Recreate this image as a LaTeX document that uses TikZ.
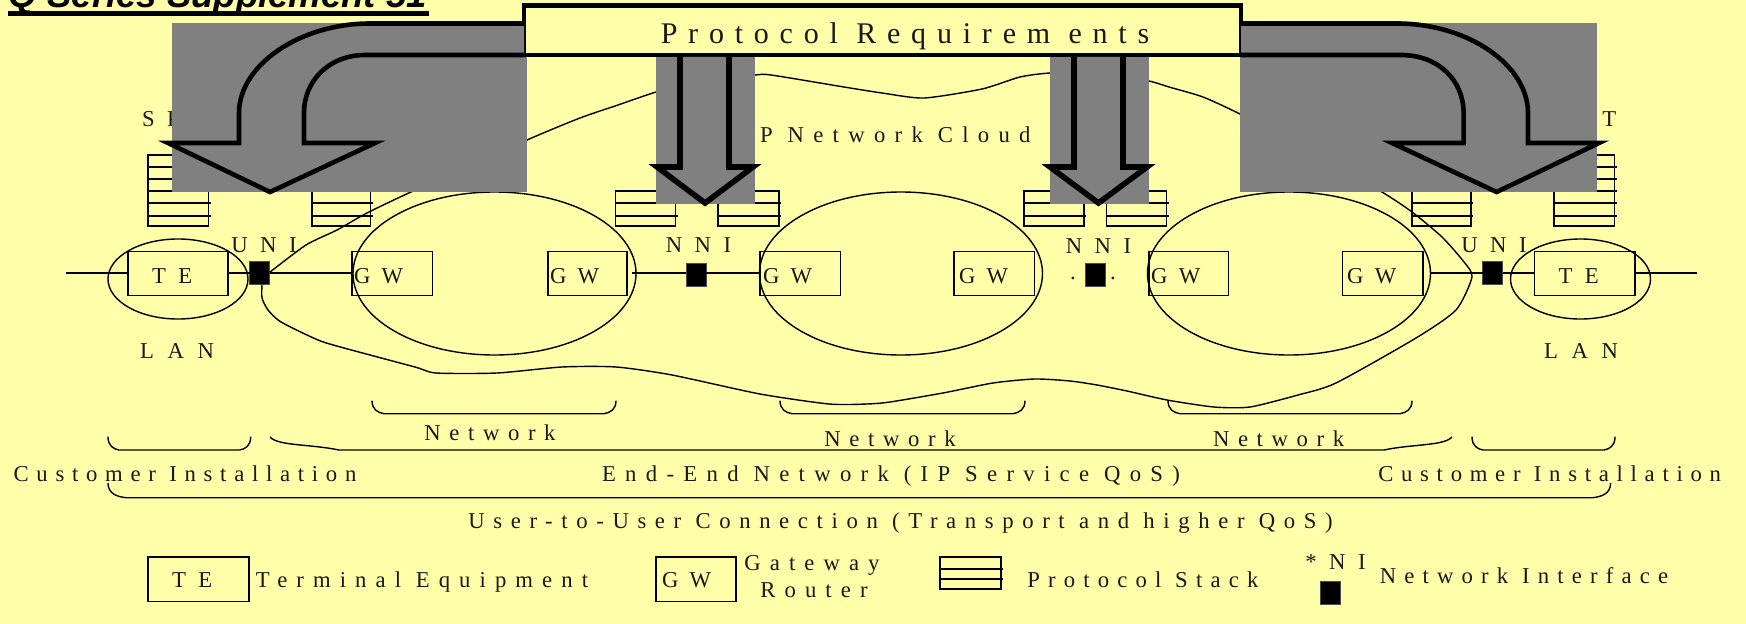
\documentclass[tikz,border=0pt]{standalone}
\usepackage{fontspec}
\setmainfont{Liberation Serif}
\setsansfont{Liberation Sans}
\usetikzlibrary{positioning, arrows.meta, shapes.geometric}
\definecolor{paper}{HTML}{FFFFAA}
\definecolor{shade}{HTML}{808080}
\begin{document}
\begin{tikzpicture}[
            x=1pt, y=-1pt,
            every node/.style={outer sep=0pt},
            thinline/.style={line width=1.4pt, line join=round},
            textlabel/.style={anchor=base, inner sep=0pt, text=black!90, font=\fontsize{22.7}{27}\selectfont\addfontfeature{LetterSpace=#1}},
            textlabel/.default=38,
            caps/.style={textlabel=55},
            equip/.style={rectangle, draw, line width=1.4pt, inner sep=0pt, anchor=north west, minimum height=43.6pt},
            stackbox/.style={rectangle, draw, line width=1.4pt, inner sep=0pt, anchor=north west},
            netcloud/.style={ellipse, draw, line width=1.4pt, inner sep=0pt, minimum width=283pt, minimum height=163pt},
            lancloud/.style={ellipse, draw, line width=1.4pt, inner sep=0pt, minimum width=140pt, minimum height=80pt},
            iface/.style={rectangle, draw=black!70, fill=black, line width=.8pt, inner sep=0pt, minimum width=20pt, minimum height=23pt},
            bigarrow/.style={draw=black, fill=shade, line width=4.6pt, line join=miter, miter limit=6},
            midarrow/.style={bigarrow, line width=5.6pt},
            shadebox/.style={fill=shade},
            curly/.style={line width=1.4pt}
        ]
        \path[use as bounding box] (0,0) rectangle (1746,623.2);
        \fill[paper] (-5,-5) rectangle (1751,630);

        % Title, cut by the top edge
        \node[anchor=base west, inner sep=0pt, font=\fontsize{36.5}{38}\sffamily\bfseries\itshape] (title) at (9,8) {Q Series Supplement 51};
        \coordinate (titlerule) at (429,13.3);
        \draw[line width=4.7pt] (8,13.3) -- (titlerule);

        % Clouds
        \node[lancloud] (lanleft) at (178,279) {};
        \node[lancloud] (lanright) at (1580.5,279) {};
        \node[netcloud] (netone) at (494.5,273.5) {};
        \node[netcloud] (nettwo) at (901,273.5) {};
        \node[netcloud] (netthree) at (1289,273.5) {};

        % Equipment boxes
        \node[equip, minimum width=100pt] (teleft) at (128,251.7) {};
        \node[equip, minimum width=80.5pt] (gwa) at (352,251.7) {};
        \node[equip, minimum width=79pt] (gwb) at (548,251.7) {};
        \node[equip, minimum width=80.5pt] (gwc) at (760,251.7) {};
        \node[equip, minimum width=80.5pt] (gwd) at (954,251.7) {};
        \node[equip, minimum width=79.7pt] (gwe) at (1149,251.7) {};
        \node[equip, minimum width=80.7pt] (gwf) at (1342.3,251.7) {};
        \node[equip, minimum width=100.4pt] (teright) at (1534.6,251.7) {};

        \node[caps, anchor=base west] (teleftlabel) at (152,283) {TE};
        \node[caps, anchor=base west] (terightlabel) at (1558.6,283) {TE};
        \foreach \gw/\gx in {gwa/354, gwb/550, gwc/763, gwd/959, gwe/1151, gwf/1347}
            \node[textlabel=50, anchor=base west] (\gw label) at (\gx,283) {GW};

        % Interfaces
        \node[iface] (unileft) at (259.5,272.5) {};
        \node[iface] (nnileft) at (696.3,274.5) {};
        \node[iface] (nniright) at (1095.7,274.5) {};
        \node[iface] (uniright) at (1492.8,272.5) {};

        \coordinate (linestart) at (66,273);
        \coordinate (lineend) at (1697,273);
        \coordinate (gwbout) at (632,273);
        \coordinate (gwfout) at (1431,273);
        \draw[thinline] (linestart) -- (teleft.west |- linestart);
        \draw[thinline] (teleft.east |- linestart) -- (unileft.west |- linestart);
        \draw[thinline] (unileft.east |- linestart) -- (gwa.west |- linestart);
        \draw[thinline] (gwbout) -- (nnileft.west |- gwbout);
        \draw[thinline] (nnileft.east |- gwbout) -- (gwc.west |- gwbout);
        \draw[thinline] (gwfout) -- (uniright.west |- gwfout);
        \draw[thinline] (uniright.east |- gwfout) -- (teright.west |- gwfout);
        \draw[thinline] (teright.east |- lineend) -- (lineend);

        \node[caps] (unilabel) at (264,252) {UNI};
        \node[caps] (nnilabel) at (698.5,252) {NNI};
        \node[caps] (nnitwolabel) at (1098.5,253) {NNI};
        \node[caps] (unitwolabel) at (1494,252) {UNI};
        \node[textlabel] (dotleft) at (1073,279) {.};
        \node[textlabel] (dotright) at (1113,279) {.};

        % Protocol stacks
        \foreach \name/\xpos/\wide in {sa/148/60.5, sh/1554/60.5}{
            \node[stackbox, minimum width=\wide pt, minimum height=71pt] (\name) at (\xpos,155) {};
            \foreach \row in {167,179,191,203,216}
                \draw[thinline] (\xpos,\row) -- ++(\wide+2,0);
        }
        \foreach \name/\xpos/\wide in {sb/312/58.5, sc/615.6/60, sd/718/61, se/1024/60, sf/1106.6/60, sg/1412/59}{
            \node[stackbox, minimum width=\wide pt, minimum height=35pt] (\name) at (\xpos,191) {};
            \foreach \row in {203,216}
                \draw[thinline] (\xpos,\row) -- ++(\wide+2,0);
        }

        % Network cloud outline
        \draw[thinline] plot[smooth, tension=.4] coordinates {
            (unileft.east) (306,245) (337,230) (367,213) (411,192) (527,140) (580,118) (618,105)
            (656,92) (700,80) (755,75) (771,75) (844,87) (882,93) (924,98) (982,89)
            (1020,77) (1050,73) (1100,72) (1149,81) (1169,87) (1203,97) (1240,114) (1310,150)
            (1382,192) (1412,212) (1442,237) (1464,262) (1472,277) (1456,310) (1416,338)
            (1336,383) (1298,395) (1250,407) (1214,407) (1167,400) (1127,391) (1097,385)
            (1070,381) (1035,379) (993,383) (943,393) (890,402) (867,404) (829,404) (760,394)
            (672,375) (616,367) (562,367) (497,373) (436,373) (415,367) (344,348) (318,340)
            (281,322) (268,310) (262,298) (262,285)
        };

        % Labels below the shaded areas
        \node[caps, anchor=base west] (splabel) at (142,127) {SP};
        \node[caps, anchor=base west] (tlabel) at (1602.3,127) {T};
        \node[textlabel=41, anchor=base west] (cloudlabel) at (760,143) {P Network Cloud};

        % Shaded areas with the arrows
        \fill[shadebox] (172,23) rectangle (527,192);
        \fill[shadebox] (656,55) rectangle (755,204);
        \fill[shadebox] (1050,55) rectangle (1149,204);
        \fill[shadebox] (1240,23) rectangle (1597,192);

        \node[rectangle, draw, fill=paper, line width=4.6pt, inner sep=0pt, anchor=north west, minimum width=717pt, minimum height=49.3pt] (req) at (524,5.7) {};
        \node[anchor=base, inner sep=0pt, text=black!90, font=\fontsize{30}{34}\selectfont\addfontfeature{LetterSpace=36}] (reqlabel) at (905,44) {Protocol Requirem ents};

        \coordinate (leftstart) at (524,23.5);
        \coordinate (leftback) at (524,55);
        \draw[bigarrow] (leftstart) -- (370,23.5) .. controls (300,23.5) and (239,65) .. (239,113)
            -- (239,143) -- (168,143) -- (270,192) -- (375,143) -- (304,143) -- (304,113)
            .. controls (304,80) and (330,55) .. (365,55) -- (leftback);
        \coordinate (rightstart) at (1241,23.5);
        \coordinate (rightback) at (1241,55);
        \draw[bigarrow] (rightstart) -- (1397,23.5) .. controls (1468,23.5) and (1528,65) .. (1528,113)
            -- (1528,143) -- (1599,143) -- (1496.6,192) -- (1392,143) -- (1463.6,143) -- (1463.6,113)
            .. controls (1463.6,80) and (1438,55) .. (1401,55) -- (rightback);
        \draw[midarrow] (680,57) -- (680,167) -- (657,167) -- (705,203) -- (753,167) -- (729,167) -- (729,57);
        \draw[midarrow] (1074,57) -- (1074,167) -- (1050,167) -- (1098.5,203) -- (1147,167) -- (1123,167) -- (1123,57);

        % Lower labels
        \node[textlabel=60] (lanleftlabel) at (177,358) {LAN};
        \node[textlabel=60] (lanrightlabel) at (1581,358) {LAN};
        \node[textlabel] (netonelabel) at (490,440) {Network};
        \node[textlabel] (nettwolabel) at (890,446) {Network};
        \node[textlabel] (netthreelabel) at (1278.6,446) {Network};
        \node[textlabel=34] (custleft) at (185,481.7) {Customer Installation};
        \node[textlabel=34] (custright) at (1549.6,481.7) {Customer Installation};
        \node[textlabel=41] (endlabel) at (891,481.7) {End-End Network (IP Service QoS)};
        \node[textlabel=38] (userlabel) at (900.5,528) {User-to-User Connection (Transport and higher QoS)};

        % Braces
        \foreach \ax/\bx/\ty/\by/\ind in {372/616/400.7/413.7/12, 780/1025/400.7/413.7/12, 1168/1412/400.7/413.7/12, 108/250.7/436.7/450/11, 1472/1615/436.7/450/11, 108/1610.6/483/497.7/18}
            \draw[curly] (\ax,\ty) .. controls (\ax,\by-4) and (\ax+\ind*.5,\by-1) .. (\ax+\ind,\by)
                -- (\bx-\ind,\by) .. controls (\bx-\ind*.5,\by-1) and (\bx,\by-4) .. (\bx,\ty);
        \draw[curly] (270,437) .. controls (278,446) and (310,444) .. (339,450) -- (1384,450)
            .. controls (1412,444) and (1444,446) .. (1452,437);

        % Legend
        \node[equip, minimum width=101pt, minimum height=44.7pt] (legte) at (148,557) {};
        \node[caps, anchor=base west] (legtelabel) at (172,587.7) {TE};
        \node[textlabel=40] (legtetext) at (422,587.7) {Terminal Equipment};
        \node[equip, minimum width=80pt, minimum height=44.7pt] (leggw) at (656,557) {};
        \node[textlabel=50, anchor=base west] (leggwlabel) at (662,587.7) {GW};
        \node[textlabel=40] (leggate) at (812,570) {Gateway};
        \node[textlabel=40] (legrouter) at (814,597) {Router};
        \node[stackbox, minimum width=61pt, minimum height=32pt] (legstack) at (940,557) {};
        \coordinate (legrowa) at (1003,569);
        \coordinate (legrowb) at (1003,579);
        \draw[thinline] (legstack.west |- legrowa) -- (legrowa);
        \draw[thinline] (legstack.west |- legrowb) -- (legrowb);
        \node[textlabel=36] (legstacktext) at (1142.8,587.7) {Protocol Stack};
        \node[caps] (legni) at (1335.5,569) {*NI};
        \node[iface] (legbox) at (1330.7,592.5) {};
        \node[textlabel=36] (legnitext) at (1524,583) {Network Interface};
\end{tikzpicture}
\end{document}
